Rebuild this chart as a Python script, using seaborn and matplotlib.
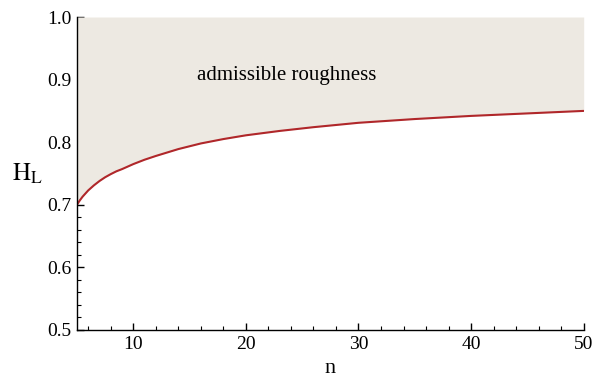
import numpy as np
import pandas as pd
import matplotlib
matplotlib.use("Agg")
import matplotlib.pyplot as plt
import seaborn as sns
from matplotlib.ticker import MultipleLocator

# values
n_vals = [5, 5.25, 5.5, 6, 6.5, 7, 7.5, 8, 8.5, 9, 10, 11, 12, 14, 16, 18, 20,
          23, 26, 30, 35, 40, 45, 50]
h_vals = [0.700, 0.707, 0.713, 0.723, 0.731, 0.738, 0.744, 0.749, 0.7535, 0.757,
          0.765, 0.772, 0.778, 0.789, 0.798, 0.805, 0.811, 0.818, 0.824, 0.831,
          0.837, 0.842, 0.846, 0.850]

df = pd.DataFrame({"n": n_vals, "H": h_vals})

sns.set_style("ticks")
plt.rcParams['font.family'] = ['Liberation Serif', 'DejaVu Serif']
plt.rcParams['mathtext.fontset'] = 'stix'
plt.rcParams['text.color'] = 'black'
plt.rcParams['axes.labelcolor'] = 'black'
plt.rcParams['xtick.color'] = 'black'
plt.rcParams['ytick.color'] = 'black'

fig = plt.figure(figsize=(5.93, 3.83), dpi=100)
ax = fig.add_axes([0.1298, 0.1384, 0.8545, 0.8172])

# shaded admissible region above the curve
ax.fill_between(df["n"], df["H"], 1.0, color="#EDE9E2", linewidth=0)
sns.lineplot(data=df, x="n", y="H", color="#B0272A", linewidth=1.5, ax=ax)

ax.set_xlim(5, 50)
ax.set_ylim(0.5, 1.0)
ax.xaxis.set_major_locator(MultipleLocator(10))
ax.xaxis.set_minor_locator(MultipleLocator(2))
ax.yaxis.set_major_locator(MultipleLocator(0.1))
ax.yaxis.set_minor_locator(MultipleLocator(0.02))
ax.set_yticks([0.5, 0.6, 0.7, 0.8, 0.9, 1.0])
ax.set_yticklabels(["0.5", "0.6", "0.7", "0.8", "0.9", "1.0"])

ax.tick_params(which="major", direction="in", length=5, width=1, labelsize=14, pad=4)
ax.tick_params(which="minor", direction="in", length=3, width=0.8)
sns.despine(ax=ax)
for s in ["left", "bottom"]:
    ax.spines[s].set_linewidth(1)
    ax.spines[s].set_color("black")

ax.set_xlabel("n", fontsize=16, labelpad=5)
ax.set_ylabel(r"$\mathrm{H}_{\mathrm{L}}$", fontsize=18, rotation=0, labelpad=14, va="center")

ax.text(23.6, 0.907, "admissible roughness", fontsize=15, ha="center", va="center")

fig.savefig("out.png", dpi=100)
